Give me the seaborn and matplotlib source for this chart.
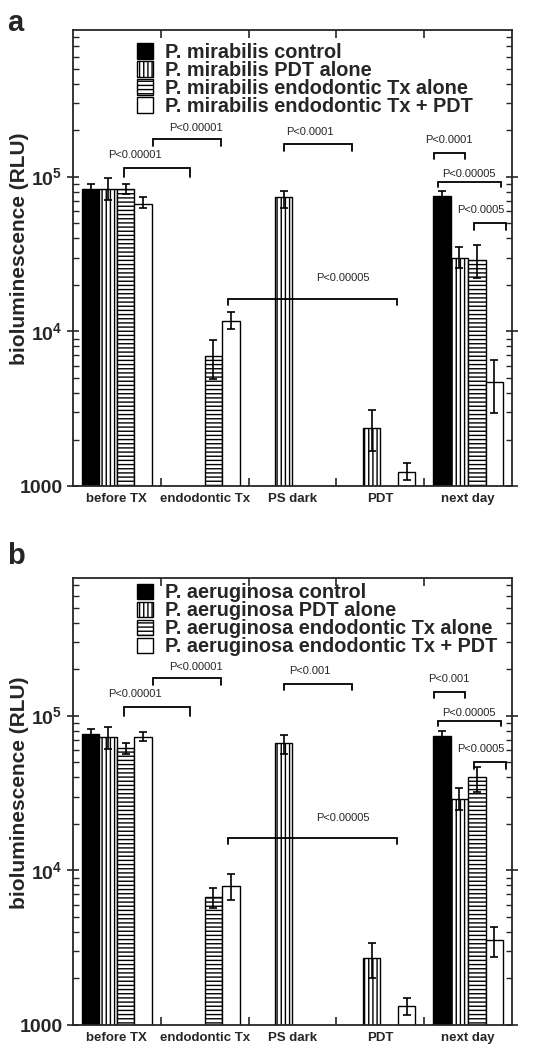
import numpy as np
import pandas as pd
import matplotlib
matplotlib.use("Agg")
import matplotlib.pyplot as plt
from matplotlib.container import BarContainer
import seaborn as sns

nan = np.nan

stages = ["before TX", "endodontic Tx", "PS dark", "PDT", "next day"]
groups = ["control", "PDT alone", "endodontic Tx alone", "endodontic Tx + PDT"]

# panel a: P. mirabilis (nan = not measured at that stage)
mir_control = [83000, nan, nan, nan, 75000]
mir_control_hi = [90000, nan, nan, nan, 81000]
mir_control_lo = [77000, nan, nan, nan, 70000]
mir_pdt = [84000, nan, 74000, 2370, 30000]
mir_pdt_hi = [98000, nan, 81000, 3100, 35000]
mir_pdt_lo = [71000, nan, 63000, 1680, 25700]
mir_endo = [83000, 6900, nan, nan, 29000]
mir_endo_hi = [90000, 8800, nan, nan, 36000]
mir_endo_lo = [77000, 4900, nan, nan, 22000]
mir_both = [67000, 11700, nan, 1230, 4700]
mir_both_hi = [74000, 13300, nan, 1410, 6500]
mir_both_lo = [63000, 10300, nan, 1090, 2960]

# panel b: P. aeruginosa
aer_control = [76000, nan, nan, nan, 74000]
aer_control_hi = [82000, nan, nan, nan, 80000]
aer_control_lo = [70000, nan, nan, nan, 68000]
aer_pdt = [73000, nan, 67000, 2700, 29000]
aer_pdt_hi = [85000, nan, 75000, 3400, 34000]
aer_pdt_lo = [61000, nan, 57000, 2000, 24500]
aer_endo = [62000, 6700, nan, nan, 40000]
aer_endo_hi = [67000, 7700, nan, nan, 47000]
aer_endo_lo = [57000, 5700, nan, nan, 32000]
aer_both = [73000, 7900, nan, 1330, 3550]
aer_both_hi = [79000, 9500, nan, 1500, 4300]
aer_both_lo = [69000, 6400, nan, 1160, 2750]

p_labels_a = ["P<0.00001", "P<0.00001", "P<0.0001", "P<0.0001",
              "P<0.00005", "P<0.0005", "P<0.00005"]
p_labels_b = ["P<0.00001", "P<0.00001", "P<0.001", "P<0.001",
              "P<0.00005", "P<0.0005", "P<0.00005"]

# significance brackets: x from, x to, bar y, leg end y, text x, text y
brackets = [
    (0.08, 0.83, 1.14e5, 1.0e5, 0.20, 1.38e5),
    (0.41, 1.19, 1.75e5, 1.58e5, 0.90, 2.06e5),
    (1.90, 2.68, 1.62e5, 1.47e5, 2.20, 1.94e5),
    (3.61, 3.97, 1.42e5, 1.30e5, 3.78, 1.73e5),
    (3.66, 4.375, 9.2e4, 8.6e4, 4.01, 1.04e5),
    (4.07, 4.43, 5.0e4, 4.5e4, 4.15, 6.1e4),
    (1.27, 3.19, 1.62e4, 1.48e4, 2.57, 2.2e4),
]

colors = {"control": "black", "PDT alone": "white",
          "endodontic Tx alone": "white", "endodontic Tx + PDT": "white"}
hatches = ["", "||||", "----", ""]

sns.set_style("ticks")
plt.rcParams["font.family"] = ["Liberation Sans", "DejaVu Sans"]
plt.rcParams["mathtext.fontset"] = "custom"
plt.rcParams["mathtext.rm"] = "Liberation Sans:bold"
plt.rcParams["mathtext.bf"] = "Liberation Sans:bold"
plt.rcParams["hatch.linewidth"] = 1.0


def draw_panel(ax, species, values, highs, lows, p_labels, top, leg_y):
    rows = []
    for g, vals in zip(groups, values):
        for s, v in zip(stages, vals):
            if not np.isnan(v):
                rows.append({"stage": s, "group": g, "value": v})
    df = pd.DataFrame(rows)

    sns.barplot(data=df, x="stage", y="value", hue="group", order=stages,
                hue_order=groups, palette=colors, saturation=1,
                edgecolor="black", linewidth=1.0, errorbar=None,
                legend=False, ax=ax)
    bars = [c for c in ax.containers if isinstance(c, BarContainer)]

    # hatches and asymmetric error bars
    for i, cont in enumerate(bars):
        for bar in cont.patches:
            bar.set_hatch(hatches[i])
            x = bar.get_x() + bar.get_width() / 2
            k = int(round(x))
            v = values[i][k]
            ax.errorbar(x, v, yerr=[[v - lows[i][k]], [highs[i][k] - v]],
                        fmt="none", ecolor="black", elinewidth=1.2,
                        capsize=3, capthick=1.2, zorder=5)

    ax.set_yscale("log")
    ax.set_ylim(1000, top)
    ax.set_xlim(-0.5, 4.5)

    # brackets
    for (x0, x1, yb, yl, tx, ty), lab in zip(brackets, p_labels):
        ax.plot([x0, x0, x1, x1], [yl, yb, yb, yl], color="black", lw=1.3,
                solid_joinstyle="miter", zorder=6)
        ax.text(tx, ty, lab, ha="center", va="center", fontsize=8)

    leg = ax.legend(handles=bars,
                    labels=["%s %s" % (species, g) for g in groups],
                    loc="upper left", bbox_to_anchor=(0.145, leg_y),
                    frameon=False, fontsize=14.3, handlelength=0.8,
                    handleheight=0.85, handletextpad=0.65, labelspacing=-0.05,
                    borderpad=0, borderaxespad=0)
    for t in leg.get_texts():
        t.set_fontweight("bold")

    # axes styling
    ax.set_xlabel("")
    ax.set_xticks(range(len(stages)))
    ax.set_xticklabels(stages, fontsize=9.5, fontweight="bold")
    ax.set_xticks([0.5, 1.5, 2.5, 3.5], minor=True)
    ax.tick_params(axis="x", which="major", length=0, pad=5)
    ax.tick_params(axis="x", which="minor", direction="in", length=6,
                   width=1.2, top=True, bottom=True)

    ax.set_yticks([1000, 1e4, 1e5])
    ax.set_yticklabels(["1000", r"$10^4$", r"$10^5$"], fontsize=14,
                       fontweight="bold")
    ax.set_yticks([m * 10 ** e for e in (3, 4, 5) for m in range(2, 10)
                   if m * 10 ** e < top], minor=True)
    ax.yaxis.set_minor_formatter(plt.NullFormatter())
    ax.tick_params(axis="y", which="major", direction="inout", length=9,
                   width=1.2, left=True, right=True, pad=3)
    ax.tick_params(axis="y", which="minor", direction="in", length=4,
                   width=1.0, left=True, right=True)
    ax.set_ylabel("bioluminescence (RLU)", fontsize=15, fontweight="bold")
    ax.yaxis.set_label_coords(-0.10, 0.52)
    for sp in ax.spines.values():
        sp.set_visible(True)
        sp.set_linewidth(1.3)


fig = plt.figure(figsize=(5.43, 10.5), dpi=100)
ax_a = fig.add_axes([0.1344, 0.5371, 0.8085, 0.4343])
ax_b = fig.add_axes([0.1344, 0.0238, 0.8085, 0.4257])

draw_panel(ax_a, "P. mirabilis",
           [mir_control, mir_pdt, mir_endo, mir_both],
           [mir_control_hi, mir_pdt_hi, mir_endo_hi, mir_both_hi],
           [mir_control_lo, mir_pdt_lo, mir_endo_lo, mir_both_lo],
           p_labels_a, 8.9e5, 0.972)
draw_panel(ax_b, "P. aeruginosa",
           [aer_control, aer_pdt, aer_endo, aer_both],
           [aer_control_hi, aer_pdt_hi, aer_endo_hi, aer_both_hi],
           [aer_control_lo, aer_pdt_lo, aer_endo_lo, aer_both_lo],
           p_labels_b, 7.8e5, 0.988)

fig.text(0.013, 0.991, "a", fontsize=21, fontweight="bold", va="top")
fig.text(0.013, 0.484, "b", fontsize=21, fontweight="bold", va="top")

fig.savefig("out.png", dpi=100)
